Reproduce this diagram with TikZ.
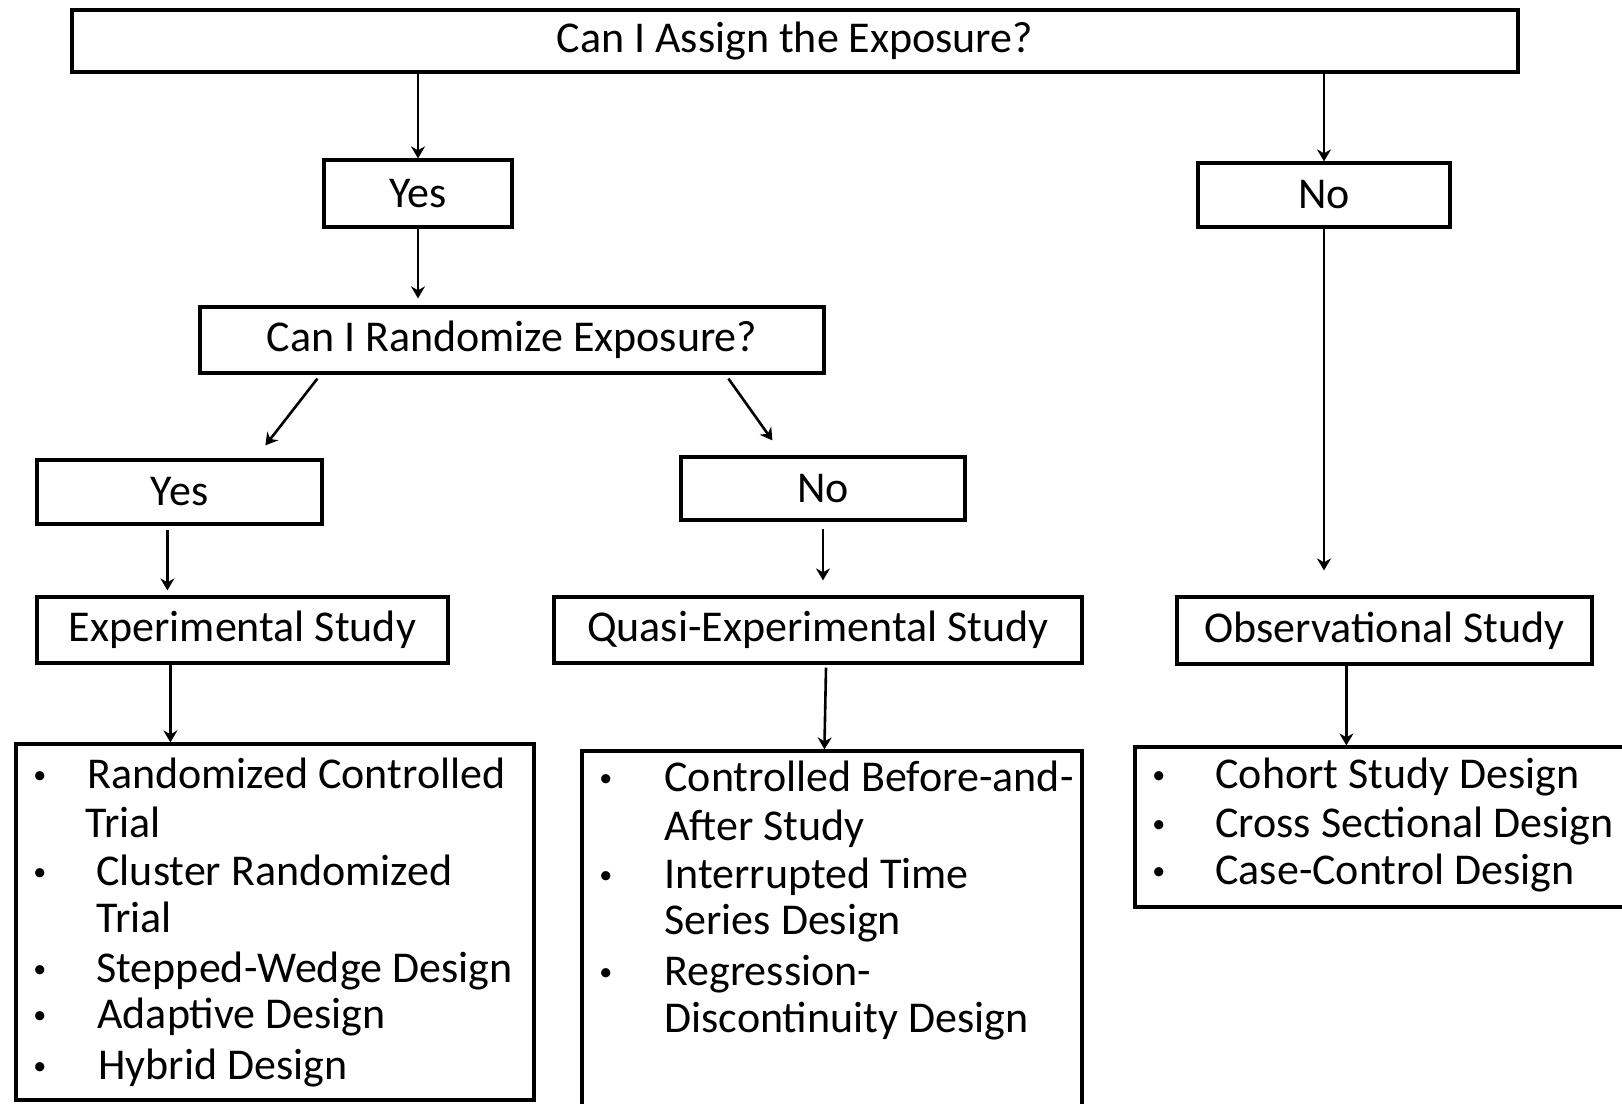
\documentclass[tikz,border=0pt]{standalone}
\usepackage{fontspec}
\setmainfont{Carlito}
\usetikzlibrary{arrows.meta,calc}

\newcommand{\blt}[1]{\makebox[#1][l]{\raisebox{2.5pt}{\fontsize{13}{13}\selectfont •}}}

\tikzset{
  box/.style={draw, line width=1.6pt, inner sep=0pt},
  arr/.style={line width=1.3pt, -{Stealth[length=6pt,width=7pt]}},
  item/.style={anchor=base west, inner sep=0pt},
}

\begin{document}
\begin{tikzpicture}[x=0.5pt,y=-0.5pt,font=\fontsize{22}{24}\selectfont]
\useasboundingbox (0,0) rectangle (1622,1103);
\clip (0,0) rectangle (1622,1103);

\node[box, minimum width=723pt, minimum height=31pt] (top) at (795,41) {Can I Assign the Exposure?};
\node[box, minimum width=94pt, minimum height=33.5pt] (yes1) at (418,193.5) {Yes};
\node[box, minimum width=126pt, minimum height=32pt] (no1) at (1324,195) {No};
\node[box, minimum width=312pt, minimum height=33pt] (rand) at (512,340) {Can I Randomize Exposure?};
\node[box, minimum width=142.5pt, minimum height=32pt] (yes2) at (179.5,492) {Yes};
\node[box, minimum width=142pt, minimum height=31.5pt] (no2) at (823,488.5) {No};
\node[box, minimum width=205.5pt, minimum height=33pt] (exp) at (242.5,630) {Experimental Study};
\node[box, minimum width=264pt, minimum height=33pt] (quasi) at (818,630) {Quasi-Experimental Study};
\node[box, minimum width=207.5pt, minimum height=33.5pt] (obs) at (1384.5,630.5) {Observational Study};

% list boxes
\node[box, minimum width=259pt, minimum height=178pt] (explist) at (275,922) {};
\node[box, minimum width=250pt, minimum height=184.5pt] (quasilist) at (832,935.5) {};
\node[box, minimum width=252.5pt, minimum height=80pt] (obslist) at (1387.5,827) {};

% experimental designs
\node[item] (exp1) at (33,788) {\blt{27pt}Randomized Controlled};
\node[item] (exp2) at (85,837) {Trial};
\node[item] (exp3) at (33,885) {\blt{31.5pt}Cluster Randomized};
\node[item] (exp4) at (96,932) {Trial};
\node[item] (exp5) at (33,982) {\blt{31.5pt}Stepped-Wedge Design};
\node[item] (exp6) at (33,1028) {\blt{32pt}Adaptive Design};
\node[item] (exp7) at (33,1079) {\blt{32.5pt}Hybrid Design};

% quasi-experimental designs
\node[item] (quasi1) at (599,791) {\blt{32.5pt}Controlled Before-and-};
\node[item] (quasi2) at (664,840) {After Study};
\node[item] (quasi3) at (599,888) {\blt{32.5pt}Interrupted Time};
\node[item] (quasi4) at (664,934) {Series Design};
\node[item] (quasi5) at (599,985) {\blt{32.5pt}Regression-};
\node[item] (quasi6) at (664,1032) {Discontinuity Design};

% observational designs
\node[item] (obs1) at (1152,788) {\blt{31.5pt}Cohort Study Design};
\node[item] (obs2) at (1152,837) {\blt{31.5pt}Cross Sectional Design};
\node[item] (obs3) at (1152,884) {\blt{31.5pt}Case-Control Design};

\draw[arr] (yes1.north |- top.south) -- (yes1.north);
\draw[arr] (no1.north |- top.south) -- (no1.north);
\draw[arr, shorten >=3.5pt] (yes1.south) -- (yes1.south |- rand.north);
\draw[arr] ($(rand.south west)+(119,4)$) -- ($(yes2.north west)+(230,-13)$);
\draw[arr] ($(rand.south west)+(530,4)$) -- ($(no2.north west)+(93,-15)$);
\draw[arr] ($(yes2.south west)+(132,4)$) -- ($(exp.north west)+(132,-5)$);
\draw[arr, shorten <=3.5pt, shorten >=7.5pt] (no2.south) -- (no2.south |- quasi.north);
\draw[arr, shorten >=12.5pt] (no1.south) -- (no1.south |- obs.north);
\draw[arr] ($(exp.south west)+(135,0)$) -- ($(explist.north west)+(156,0)$);
\draw[arr] ($(quasi.south)+(8,3)$) -- ($(quasilist.north west)+(244,0)$);
\draw[arr] ($(obs.south west)+(171,0)$) -- ($(obslist.north west)+(213,0)$);
\end{tikzpicture}
\end{document}
